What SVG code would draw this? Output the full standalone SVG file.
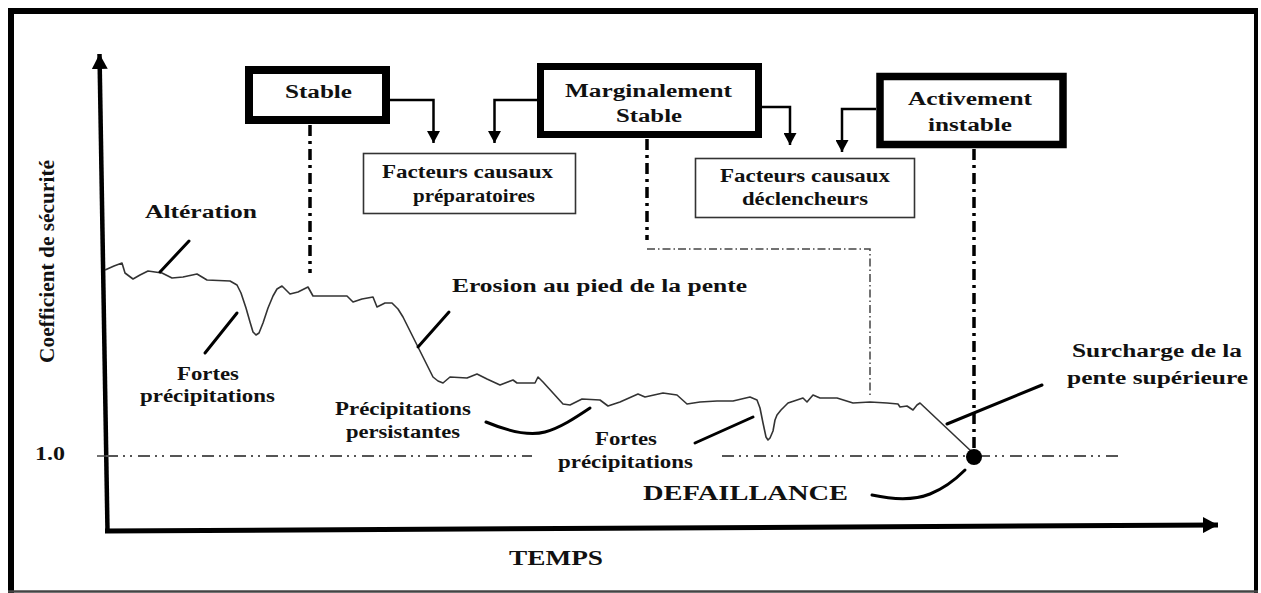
<svg xmlns="http://www.w3.org/2000/svg" width="1261" height="593" viewBox="0 0 1261 593">
<defs>
<style>
.t{font-family:"Liberation Serif","Times New Roman",serif;font-weight:bold;font-size:18px;fill:#111}
.thick{fill:#fff;stroke:#000}
.thin{fill:#fff;stroke:#333;stroke-width:1.6}
.conn{fill:none;stroke:#000;stroke-width:2.5}
.lead{fill:none;stroke:#000;stroke-width:3;stroke-linecap:round}
.dd{fill:none;stroke:#000;stroke-width:3.5;stroke-dasharray:11 5 3 5}
.ddthin{fill:none;stroke:#444;stroke-width:1.5;stroke-dasharray:8 3 1.5 3}
.ref{fill:none;stroke:#555;stroke-width:2;stroke-dasharray:12 5 2 5 2 6}
</style>
<marker id="ah" viewBox="0 0 12 13" refX="12" refY="6.5" markerWidth="12" markerHeight="13" markerUnits="userSpaceOnUse" orient="auto">
<path d="M0,0 L12,6.5 L0,13 z" fill="#000"/>
</marker>
<marker id="axh" viewBox="0 0 15 16" refX="15" refY="8" markerWidth="15" markerHeight="16" markerUnits="userSpaceOnUse" orient="auto">
<path d="M0,0 L15,8 L0,16 z" fill="#000"/>
</marker>
</defs>
<rect x="0" y="0" width="1261" height="593" fill="#fff"/>
<g id="frame">
<line x1="8" y1="11" x2="1258" y2="11" stroke="#000" stroke-width="6"/>
<line x1="11" y1="8" x2="11" y2="593" stroke="#000" stroke-width="6"/>
<line x1="1256" y1="8" x2="1256" y2="593" stroke="#000" stroke-width="4"/>
<line x1="8" y1="591.5" x2="1258" y2="591.5" stroke="#444" stroke-width="2.5"/>
</g>
<g id="axes">
<path d="M107.5,531 L99.5,54" fill="none" stroke="#000" stroke-width="4.5" marker-end="url(#axh)"/>
<path d="M105,531 L1218,525" fill="none" stroke="#000" stroke-width="5" marker-end="url(#axh)"/>
<line x1="97" y1="456" x2="106" y2="456" stroke="#444" stroke-width="1.5"/>
<path class="ref" d="M106,456 H532"/>
<path class="ref" d="M722,456 H1118"/>
<text class="t" x="35" y="460" textLength="30" lengthAdjust="spacingAndGlyphs">1.0</text>
<text class="t" x="54" y="363" transform="rotate(-90 54 363)" style="font-size:21px" textLength="203" lengthAdjust="spacingAndGlyphs">Coefficient de sécurité</text>
<text class="t" x="509" y="565" style="font-size:22px" textLength="94" lengthAdjust="spacingAndGlyphs">TEMPS</text>
</g>
<g id="curve">
<path d="M105,270 L114,266 L122,263 L125,273 L133,279 L140,275 L148,271 L162,273 L172,278 L183,277 L197,274 L207,280 L230,281 L237,285 L241,293 L246,308 L250,322 L253,332 L256,335 L259,333 L263,323 L268,308 L273,296 L277,289 L282,286 L290,294 L298,292 L308,287 L313,296 L330,296 L347,296 L353,302 L362,299 L373,297 L377,307 L385,303 L392,303 L398,309 L403,317 L418,347 L433,377 L438,381 L443,383 L450,377 L467,378 L477,374 L487,379 L500,385 L513,380 L517,383 L535,383 L538,377 L543,382 L563,404 L570,405 L582,399 L600,400 L608,406 L620,402 L638,394 L645,397 L663,393 L677,395 L687,404 L700,402 L717,401 L733,401 L750,397 L757,400 L760,408 L763,423 L766,437 L768,440 L770,438 L773,431 L775,420 L777,415 L781,410 L788,403 L803,398 L807,402 L813,395 L820,398 L837,398 L853,403 L870,402 L887,403 L898,404 L900,407 L907,406 L913,410 L917,405 L920,403 L972,452" fill="none" stroke="#333" stroke-width="1.6" stroke-linejoin="round"/>
<circle cx="974" cy="457" r="8" fill="#000"/>
</g>
<g id="connectors">
<path class="conn" d="M390,100 H433.5 V143" marker-end="url(#ah)"/>
<path class="conn" d="M537,100 H494.5 V143" marker-end="url(#ah)"/>
<path class="conn" d="M762,107 H790 V145" marker-end="url(#ah)"/>
<path class="conn" d="M876,109 H842 V152" marker-end="url(#ah)"/>
<path class="dd" d="M310,125 V273"/>
<path class="dd" d="M647,139 V240"/>
<path class="ddthin" d="M647,249 H870 V397"/>
<path class="dd" d="M974,149 V449"/>
<path class="lead" d="M189,241 L160,272"/>
<path class="lead" d="M237,313 L205,353"/>
<path class="lead" d="M449,312 L418,347"/>
<path class="lead" d="M486,422 C510,432 530,436 545,432 C560,428 575,418 590,408"/>
<path class="lead" d="M695,443 L753,417"/>
<path class="lead" d="M1042,385 L947,424"/>
<path class="lead" d="M872,495 C895,500 915,500 930,494 C945,488 955,480 965,470"/>
</g>
<g id="node-stable">
<rect class="thick" x="249" y="70" width="137" height="50" stroke-width="8"/>
<text class="t" x="285" y="98" textLength="67" lengthAdjust="spacingAndGlyphs">Stable</text>
</g>
<g id="node-marginal">
<rect class="thick" x="540.5" y="66.5" width="218" height="68" stroke-width="7"/>
<text class="t" x="565" y="97" textLength="167" lengthAdjust="spacingAndGlyphs">Marginalement</text>
<text class="t" x="616" y="122" textLength="66" lengthAdjust="spacingAndGlyphs">Stable</text>
</g>
<g id="node-actif">
<rect class="thick" x="880" y="76.5" width="183" height="68" stroke-width="7.5"/>
<text class="t" x="908" y="105" textLength="124" lengthAdjust="spacingAndGlyphs">Activement</text>
<text class="t" x="928" y="131" textLength="84" lengthAdjust="spacingAndGlyphs">instable</text>
</g>
<g id="node-preparatoires">
<rect class="thin" x="363.5" y="153.5" width="212" height="60"/>
<text class="t" x="382" y="178" textLength="171" lengthAdjust="spacingAndGlyphs">Facteurs causaux</text>
<text class="t" x="413" y="202" textLength="122" lengthAdjust="spacingAndGlyphs">préparatoires</text>
</g>
<g id="node-declencheurs">
<rect class="thin" x="695.5" y="158.5" width="219" height="59"/>
<text class="t" x="720" y="182" textLength="170" lengthAdjust="spacingAndGlyphs">Facteurs causaux</text>
<text class="t" x="742" y="205" textLength="126" lengthAdjust="spacingAndGlyphs">déclencheurs</text>
</g>
<g id="label-alteration">
<text class="t" x="145" y="218" textLength="112" lengthAdjust="spacingAndGlyphs">Altération</text>
</g>
<g id="label-fortes1">
<text class="t" x="177" y="380" textLength="62" lengthAdjust="spacingAndGlyphs">Fortes</text>
<text class="t" x="140" y="402" textLength="135" lengthAdjust="spacingAndGlyphs">précipitations</text>
</g>
<g id="label-erosion">
<text class="t" x="452" y="292" textLength="295" lengthAdjust="spacingAndGlyphs">Erosion au pied de la pente</text>
</g>
<g id="label-persistantes">
<text class="t" x="335" y="415" textLength="136" lengthAdjust="spacingAndGlyphs">Précipitations</text>
<text class="t" x="346" y="438" textLength="114" lengthAdjust="spacingAndGlyphs">persistantes</text>
</g>
<g id="label-fortes2">
<text class="t" x="595" y="445" textLength="62" lengthAdjust="spacingAndGlyphs">Fortes</text>
<text class="t" x="558" y="468" textLength="135" lengthAdjust="spacingAndGlyphs">précipitations</text>
</g>
<g id="label-defaillance">
<text class="t" x="643" y="500" style="font-size:20px" textLength="205" lengthAdjust="spacingAndGlyphs">DEFAILLANCE</text>
</g>
<g id="label-surcharge">
<text class="t" x="1072" y="357" textLength="170" lengthAdjust="spacingAndGlyphs">Surcharge de la</text>
<text class="t" x="1067" y="384" textLength="181" lengthAdjust="spacingAndGlyphs">pente supérieure</text>
</g>
</svg>
